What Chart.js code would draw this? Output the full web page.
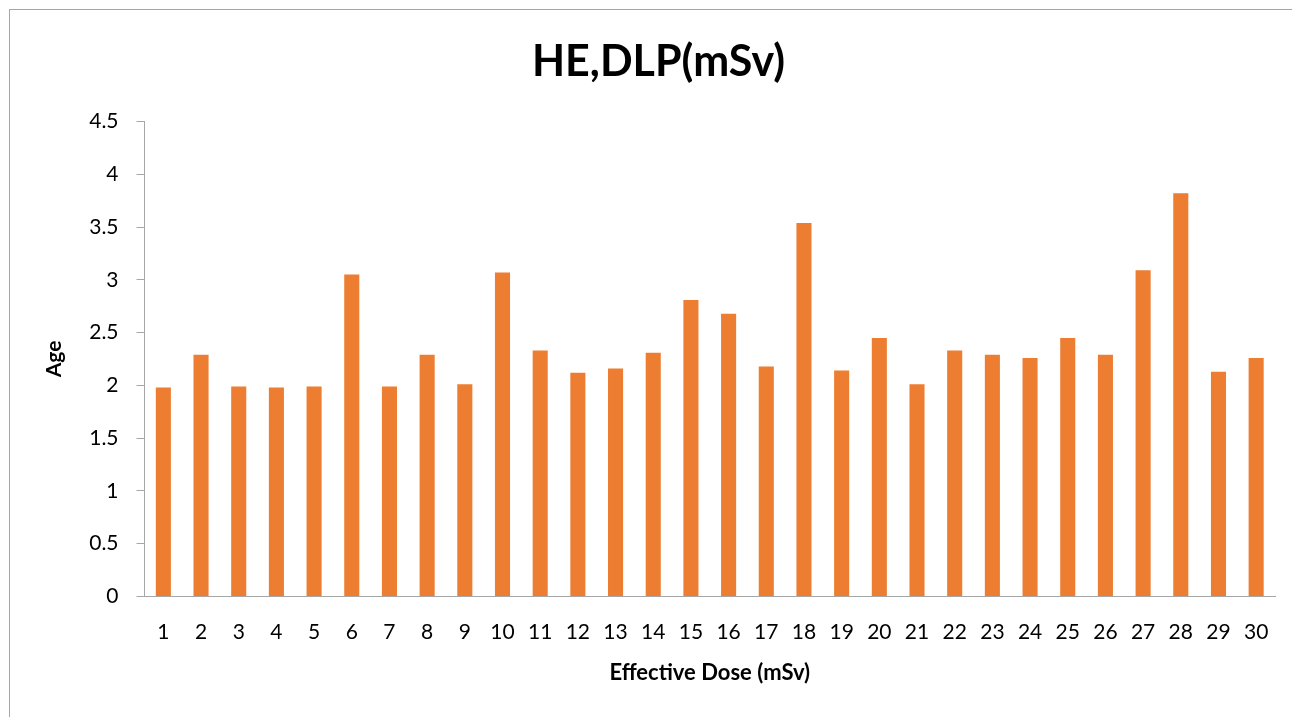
<!DOCTYPE html>
<html lang="en">
	<head>
		<meta charset="UTF-8">
		<title>HE,DLP(mSv)</title>
		<style>
			html, body { margin: 0; padding: 0; background: #fff; }
			#frame {
				position: absolute; left: 9px; top: 9px;
				width: 1300px; height: 720px;
				border-top: 1px solid #a6a6a6; border-left: 1px solid #a6a6a6;
			}
			#wrap { position: absolute; left: 0; top: 0; width: 1292px; height: 717px; }
		</style>
	</head>
	<body>
		<div id="frame"></div>
		<div id="wrap"><canvas id="doseChart"></canvas></div>

		<script src="https://cdn.jsdelivr.net/npm/chart.js"></script>
		<script>
			// patient numbers on the x axis
			const patients = ['1','2','3','4','5','6','7','8','9','10','11','12','13','14','15',
				'16','17','18','19','20','21','22','23','24','25','26','27','28','29','30'];
			// values
			const doseValues = [1.98, 2.29, 1.99, 1.98, 1.99, 3.05, 1.99, 2.29, 2.01, 3.07,
				2.33, 2.12, 2.16, 2.31, 2.81, 2.68, 2.18, 3.54, 2.14, 2.45,
				2.01, 2.33, 2.29, 2.26, 2.45, 2.29, 3.09, 3.82, 2.13, 2.26];
			const yTicks = [0, 0.5, 1, 1.5, 2, 2.5, 3, 3.5, 4, 4.5];

			const fontFamily = "Lato, 'Open Sans', sans-serif";

			const ctx = document.getElementById('doseChart').getContext('2d');
			const myChart = new Chart(ctx, {
				type: 'bar',
				data: {
					labels: patients,
					datasets: [{
						data: doseValues,
						backgroundColor: '#ed7d31',
						borderWidth: 0,
						barPercentage: 0.4,
						categoryPercentage: 1.0
					}]
				},
				options: {
					responsive: true,
					maintainAspectRatio: false,
					animation: false,
					layout: { padding: { left: 42, right: 17, top: 36, bottom: 31 } },
					plugins: {
						legend: { display: false },
						tooltip: { enabled: false },
						title: {
							display: true,
							text: 'HE,DLP(mSv)',
							color: '#000',
							font: { family: fontFamily, size: 43, weight: 'bold' },
							padding: { top: 0, bottom: 34 }
						}
					},
					scales: {
						x: {
							grid: { display: false, drawTicks: false },
							border: { display: true, color: '#a6a6a6', width: 1 },
							ticks: {
								color: '#000', padding: 23,
								maxRotation: 0, autoSkip: false,
								font: { family: fontFamily, size: 21 }
							},
							title: {
								display: true, text: 'Effective Dose (mSv)', color: '#000',
								font: { family: fontFamily, size: 22, weight: 'bold' },
								padding: { top: -8, bottom: 0 }
							}
						},
						y: {
							min: 0, max: 4.5,
							afterBuildTicks: axis => { axis.ticks = yTicks.map(v => ({ value: v })); },
							grid: {
								display: true, drawOnChartArea: false, drawTicks: true,
								tickLength: 8, color: '#a6a6a6'
							},
							border: { display: true, color: '#a6a6a6', width: 1 },
							ticks: {
								color: '#000', padding: 18,
								callback: v => String(v),
								font: { family: fontFamily, size: 21 }
							},
							title: {
								display: true, text: 'Age', color: '#000',
								font: { family: fontFamily, size: 21, weight: 'bold' },
								padding: { top: 0, bottom: 4 }
							}
						}
					}
				}
			});
		</script>
	</body>
</html>
